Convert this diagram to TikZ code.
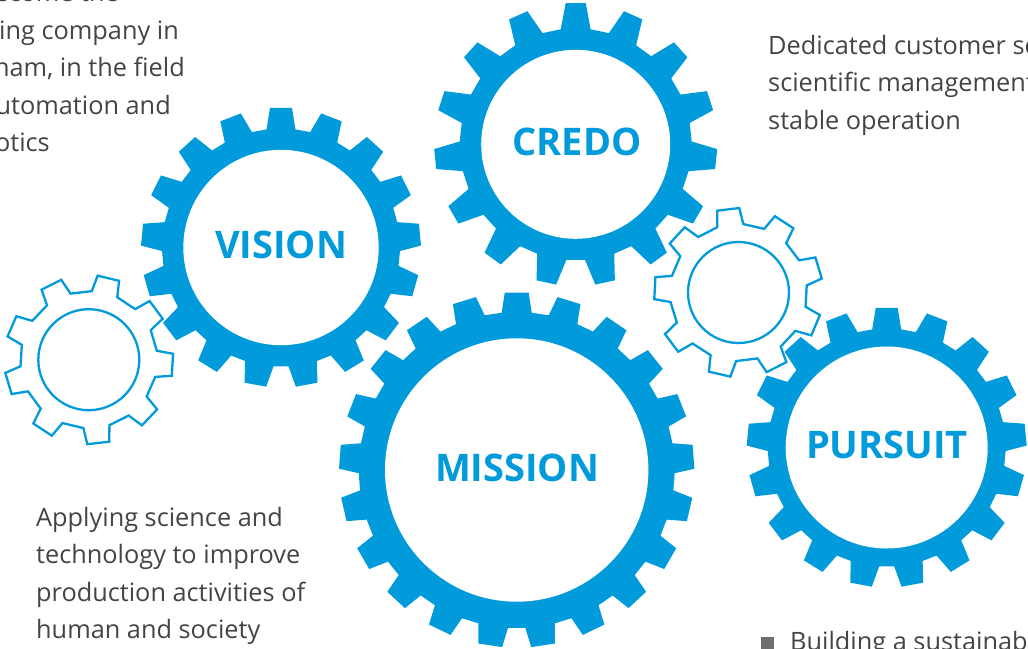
\documentclass[tikz,border=0pt]{standalone}
\usepackage{fontspec}
\setmainfont{Open Sans}
\definecolor{GearClr}{HTML}{019bdc}
\definecolor{TextClr}{HTML}{444444}
\definecolor{BulletClr}{HTML}{6d6e71}

% style, centre, hole, root, tip, teeth, first tooth, half tip angle, half base angle
\newcommand{\DrawGear}[9]{%
  \begin{scope}[shift={(#2)}]
    \path[#1] (#7-#9:#4)
      \foreach \k in {1,...,#6}{
        -- ({#7+(\k-1)*360/#6-#9}:#4) -- ({#7+(\k-1)*360/#6-#8}:#5)
        -- ({#7+(\k-1)*360/#6+#8}:#5) -- ({#7+(\k-1)*360/#6+#9}:#4)
      } -- cycle;
    \path[#1,fill=white] (0,0) circle[radius=#3];
  \end{scope}
}

\tikzset{
  gearsolid/.style={fill=GearClr},
  gearwire/.style={draw=GearClr,fill=white,line width=2.3pt,line join=miter},
  gearname/.style={anchor=base,text=GearClr,inner sep=0pt,font=\fontsize{38}{38}\bfseries},
  bodytext/.style={text=TextClr,inner sep=0pt,font=\fontsize{25.3}{25.3}\selectfont},
}

\begin{document}
\begin{tikzpicture}[x=1pt,y=-1pt]
\useasboundingbox (0,0) rectangle (1028,648);
\clip (0,0) rectangle (1028,648);

\DrawGear{gearsolid}{575.7,144.3}{94.5}{116}{141.6}{15}{-90}{4.06}{7.4}
\DrawGear{gearsolid}{281,247.5}{97.7}{119}{140}{17}{-90}{4.5}{7}
\DrawGear{gearsolid}{516.7,470}{131.7}{158}{177.7}{21}{-90}{3.87}{5.45}
\DrawGear{gearsolid}{886.7,447.5}{101}{119}{140}{17}{-90}{4.5}{7}

\DrawGear{gearwire}{738.5,292.5}{50.5}{68.6}{84.5}{9}{-97}{7.5}{11}
\DrawGear{gearwire}{88.8,359.7}{50.5}{68.6}{84.5}{9}{-76.5}{7.5}{11}

\node[gearname] (credo) at (577,155) {CREDO};
\node[gearname] (vision) at (281,258) {VISION};
\node[gearname] (mission) at (517,481) {MISSION};
\node[gearname] (pursuit) at (887,458) {PURSUIT};

\node[bodytext,anchor=base east] (visionA) at (119,1) {ecome the};
\node[bodytext,anchor=base east] (visionB) at (179,39) {ing company in};
\node[bodytext,anchor=base east] (visionC) at (185,76) {nam, in the field};
\node[bodytext,anchor=base east] (visionD) at (171,114) {utomation and};
\node[bodytext,anchor=base east] (visionE) at (50,151) {otics};

\node[bodytext,anchor=base west] (credoA) at (768,54.5) {Dedicated customer sc};
\node[bodytext,anchor=base west] (credoB) at (768,91.5) {scientific management};
\node[bodytext,anchor=base west] (credoC) at (768,129) {stable operation};

\node[bodytext,anchor=base west] (missionA) at (36,526.5) {Applying science and};
\node[bodytext,anchor=base west] (missionB) at (36,563.5) {technology to improve};
\node[bodytext,anchor=base west] (missionC) at (36,601) {production activities of};
\node[bodytext,anchor=base west] (missionD) at (36,638.5) {human and society};

\node[fill=BulletClr,inner sep=0pt,minimum size=13pt] (bullet) at (767.5,643.5) {};
\node[bodytext,anchor=base west] (pursuitA) at (790,650.5) {Building a sustainab};

\end{tikzpicture}
\end{document}
